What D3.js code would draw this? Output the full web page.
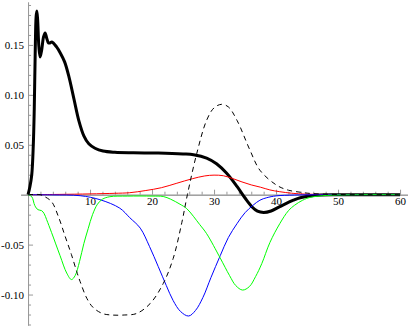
<!DOCTYPE html>
<html>
<head>
<meta charset="utf-8">
<script src="https://cdn.jsdelivr.net/npm/d3@7"></script>
<style>
  html, body { margin: 0; padding: 0; background: #fff; }
  svg { display: block; }
  .tick text { font-family: "Liberation Serif", "Times New Roman", serif; font-size: 11px; fill: #000; }
</style>
</head>
<body>
<div id="chart"></div>
<script>
// ---- data (x, y) ----
const thickSeries = [[0,0],[0.3,0.008],[0.6,0.02],[0.85,0.05],[1.0,0.085],[1.15,0.14],[1.3,0.178],[1.42,0.184],[1.55,0.175],[1.75,0.148],[1.95,0.138],[2.2,0.145],[2.5,0.158],[2.75,0.162],[3.0,0.157],[3.3,0.152],[3.55,0.152],[3.85,0.153],[4.6,0.148],[5.2,0.142],[5.9,0.133],[6.6,0.118],[7.4,0.096],[8.2,0.074],[9.0,0.059],[9.8,0.051],[10.8,0.0465],[12.1,0.0437],[14,0.0425],[17,0.042],[21,0.0417],[25,0.0408],[26.7,0.040],[28.8,0.0367],[30.4,0.031],[32,0.0217],[33.7,0.0083],[35,-0.0033],[36.1,-0.012],[37,-0.0165],[38,-0.0178],[39.2,-0.0163],[40.6,-0.012],[42.8,-0.0055],[43.9,-0.003],[46,-0.0008],[50,0],[55,0],[60,0]];
const dashedSeries = [[0,0],[2,0],[2.7,-0.002],[3.8,-0.007],[4.9,-0.022],[6.0,-0.042],[7.0,-0.060],[7.85,-0.077],[8.4,-0.087],[9.5,-0.104],[10.5,-0.113],[12,-0.119],[13.5,-0.1205],[15.5,-0.1205],[17.5,-0.119],[19.7,-0.109],[21.8,-0.089],[23.4,-0.064],[24.8,-0.028],[25.7,0],[27.2,0.041],[28.8,0.0745],[30,0.087],[31.2,0.0905],[32.3,0.088],[33.7,0.0745],[35.8,0.0445],[37.4,0.0245],[40.1,0.0095],[42,0.0045],[43.9,0.0025],[45.5,0.0013],[50,0.0002],[55,0],[60,0]];
const redSeries = [[0,0],[5,0.0003],[10,0.0008],[14,0.0014],[16.4,0.002],[19,0.0042],[21.5,0.007],[24,0.0115],[26.5,0.016],[28.5,0.0188],[30,0.0196],[31.5,0.019],[33,0.0162],[34.5,0.0128],[36,0.0098],[37.5,0.0075],[39,0.0048],[40.6,0.003],[42.5,0.0015],[44,0.0008],[47,0.0003],[52,0.0001],[60,0]];
const blueSeries = [[0,0],[4,-0.0002],[8.4,-0.001],[11.6,-0.005],[14.8,-0.0135],[16.4,-0.023],[18.1,-0.0335],[19.6,-0.052],[21,-0.072],[22.3,-0.091],[23.4,-0.106],[24.6,-0.117],[25.9,-0.1215],[27,-0.116],[28.2,-0.103],[29.5,-0.083],[31,-0.061],[32.3,-0.043],[33.7,-0.029],[35,-0.018],[36.3,-0.0105],[37.4,-0.0055],[38.5,-0.003],[40,-0.0012],[43,-0.0003],[50,0],[60,0]];
const greenSeries = [[0,0],[0.6,-0.002],[1.1,-0.011],[1.6,-0.015],[2.2,-0.016],[2.6,-0.019],[3.0,-0.025],[3.8,-0.038],[5.16,-0.061],[6.24,-0.0785],[7.0,-0.085],[7.6,-0.081],[8.3,-0.067],[9.0,-0.049],[9.7,-0.034],[10.4,-0.02],[11.2,-0.0095],[12,-0.0045],[13.2,-0.002],[16,-0.0014],[20,-0.0014],[21.8,-0.0018],[23,-0.0045],[24.5,-0.0095],[25.6,-0.014],[27.7,-0.030],[28.8,-0.039],[31,-0.0635],[32.5,-0.081],[33.5,-0.091],[34.6,-0.0955],[35.7,-0.092],[36.7,-0.082],[37.7,-0.069],[39,-0.048],[40.6,-0.029],[42,-0.016],[43,-0.0105],[44.3,-0.0055],[45.5,-0.0027],[48.2,-0.0007],[52,-0.0001],[60,0]];

const xMajorTicks = [10, 20, 30, 40, 50, 60];
const xMajorLabels = ["10", "20", "30", "40", "50", "60"];
const yMajorTicks = [-0.10, -0.05, 0.05, 0.10, 0.15];
const yMajorLabels = ["-0.10", "-0.05", "0.05", "0.10", "0.15"];

// ---- layout ----
const W = 409, H = 327;
const svg = d3.select("#chart").append("svg").attr("width", W).attr("height", H);
svg.append("rect").attr("width", W).attr("height", H).attr("fill", "#fff");

const x = d3.scaleLinear().domain([-1.2, 61.2]).range([20.6, 407.5]);
const y = d3.scaleLinear().domain([-0.1305, 0.193]).range([325, 2]);

const axisColor = "#999";
const fontFam = "'Liberation Serif', 'Times New Roman', serif";
const xMinor = d3.range(2, 61, 2).filter(v => v % 10 !== 0);
const yMinor = d3.range(-13, 20, 1).map(v => v / 100).filter(v => Math.round(v * 100) % 5 !== 0);

function styleAxis(g) {
  g.attr("font-family", fontFam).attr("font-size", 11);
  g.select(".domain").attr("stroke", axisColor).attr("stroke-width", 1);
  g.selectAll(".tick line").attr("stroke", axisColor);
}

// minor ticks
svg.append("g").attr("transform", `translate(0,${y(0)})`)
  .call(d3.axisBottom(x).tickValues(xMinor).tickSizeInner(-3).tickSizeOuter(0).tickFormat(""))
  .call(styleAxis);
svg.append("g").attr("transform", `translate(${x(0)},0)`)
  .call(d3.axisLeft(y).tickValues(yMinor).tickSizeInner(-3).tickSizeOuter(0).tickFormat(""))
  .call(styleAxis);

// major ticks + labels
svg.append("g").attr("transform", `translate(0,${y(0)})`)
  .call(d3.axisBottom(x).tickValues(xMajorTicks).tickSizeInner(-5).tickSizeOuter(0).tickPadding(3)
    .tickFormat((d, i) => xMajorLabels[i]))
  .call(styleAxis);
svg.append("g").attr("transform", `translate(${x(0)},0)`)
  .call(d3.axisLeft(y).tickValues(yMajorTicks).tickSizeInner(-5).tickSizeOuter(0).tickPadding(4)
    .tickFormat((d, i) => yMajorLabels[i]))
  .call(styleAxis);

svg.selectAll(".tick text").attr("fill", "#000").style("font-family", fontFam).style("font-size", "11px");

// ---- lines ----
const line = d3.line().x(d => x(d[0])).y(d => y(d[1])).curve(d3.curveCatmullRom.alpha(0.5));

svg.append("path").datum(thickSeries).attr("d", line)
  .attr("fill", "none").attr("stroke", "#000").attr("stroke-width", 3).attr("stroke-linejoin", "round");
svg.append("path").datum(redSeries).attr("d", line)
  .attr("fill", "none").attr("stroke", "#ff0000").attr("stroke-width", 1);
svg.append("path").datum(blueSeries).attr("d", line)
  .attr("fill", "none").attr("stroke", "#0000ff").attr("stroke-width", 1);
svg.append("path").datum(greenSeries).attr("d", line)
  .attr("fill", "none").attr("stroke", "#00ff00").attr("stroke-width", 1);
svg.append("path").datum(dashedSeries).attr("d", line)
  .attr("fill", "none").attr("stroke", "#000").attr("stroke-width", 1).attr("stroke-dasharray", "5,4");
</script>
</body>
</html>
